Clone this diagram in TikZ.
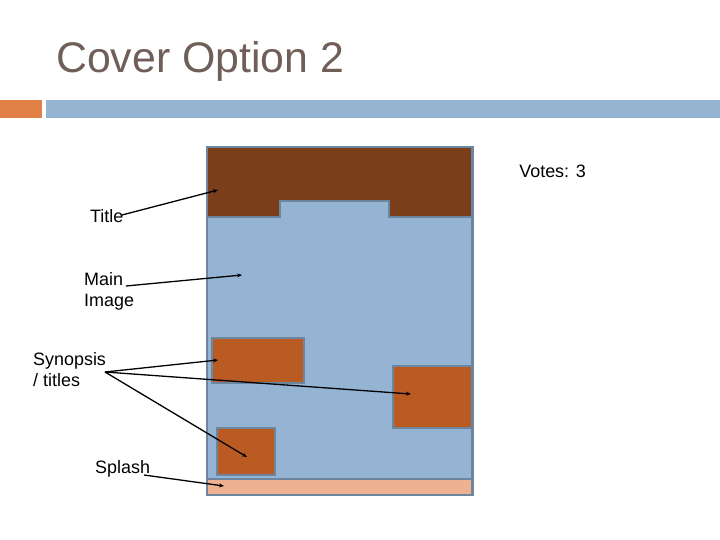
\documentclass[tikz,border=0pt]{standalone}
\usepackage{fontspec}
\setmainfont{Liberation Sans}
\usetikzlibrary{arrows.meta}
\definecolor{titlegray}{RGB}{112,95,88}
\definecolor{hdrorange}{RGB}{224,128,70}
\definecolor{hdrblue}{RGB}{148,180,210}
\definecolor{pageblue}{RGB}{149,180,212}
\definecolor{edgegray}{RGB}{108,134,160}
\definecolor{titlebrown}{RGB}{123,62,26}
\definecolor{boxorange}{RGB}{185,91,35}
\definecolor{splashpink}{RGB}{238,178,146}
\tikzset{
  lbl/.style={font=\fontsize{18}{21}\selectfont, inner sep=0pt, align=left, anchor=north west},
  ptr/.style={black, line width=1.3pt, -{Stealth[length=5pt,width=4pt]}},
  part/.style={draw=edgegray, line width=2.5pt}
}
\begin{document}
\begin{tikzpicture}[x=1bp,y=-1bp]
\useasboundingbox (0,0) rectangle (720,540);
% header
\node[font=\fontsize{43}{50}\selectfont, text=titlegray, anchor=base west, inner sep=0pt] (head) at (56,73) {Cover Option 2};
\fill[hdrorange] (0,100) rectangle (42,118);
\fill[hdrblue] (46,100) rectangle (720,118);
% page
\fill[pageblue] (207,147) rectangle (472,495);
\filldraw[fill=titlebrown, draw=edgegray, line width=1.5pt]
  (207,147) -- (472,147) -- (472,217) -- (389,217) -- (389,201) -- (280,201) -- (280,217) -- (207,217) -- cycle;
\filldraw[part, fill=boxorange] (212,338) rectangle (304,383);
\filldraw[part, fill=boxorange] (393,366) rectangle (472,428);
\filldraw[part, fill=boxorange] (217,428) rectangle (275,475);
\filldraw[fill=splashpink, draw=edgegray, line width=2pt] (207,479) rectangle (472,495);
\draw[edgegray, line width=3pt] (207,147) rectangle (472,495);
% labels
\node[lbl, anchor=north east] (votes) at (586,165) {Votes: 3};
\node[lbl] (title) at (90,209) {Title};
\node[lbl] (main) at (84,272) {Main\\Image};
\node[lbl] (syn) at (33,352) {Synopsis\\/ titles};
\node[lbl] (splash) at (95,460) {Splash};
% arrow targets
\coordinate (tT) at (218,190);
\coordinate (tM) at (242,275);
\coordinate (tS1) at (218,360);
\coordinate (tS2) at (411,394);
\coordinate (tS3) at (247,457);
\coordinate (tP) at (224,486);
\coordinate (sT) at (122,215);
\coordinate (sM) at (126,286);
\coordinate (sS) at (105,372);
\coordinate (sP) at (144,475);
\draw[ptr] (sT) -- (tT);
\draw[ptr] (sM) -- (tM);
\draw[ptr] (sS) -- (tS1);
\draw[ptr] (sS) -- (tS2);
\draw[ptr] (sS) -- (tS3);
\draw[ptr] (sP) -- (tP);
\end{tikzpicture}
\end{document}
